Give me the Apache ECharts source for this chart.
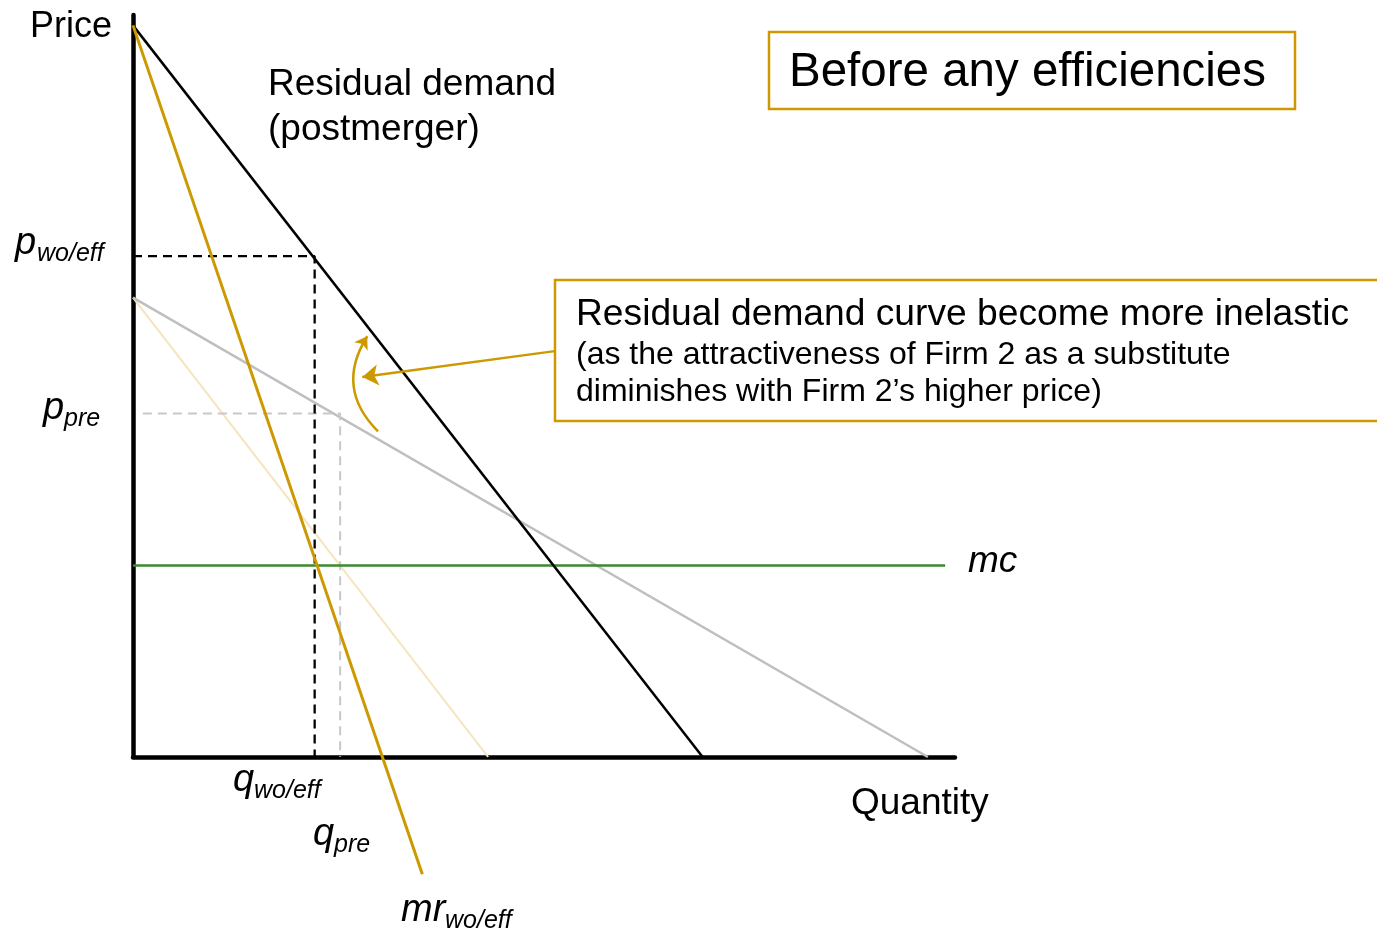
<!DOCTYPE html>
<html>
<head>
<meta charset="utf-8">
<script src="https://cdn.jsdelivr.net/npm/echarts@6/dist/echarts.min.js"></script>
<style>
  html, body { margin: 0; padding: 0; background: #fff; }
  #chart { width: 1377px; height: 931px; }
</style>
</head>
<body>
<div id="chart"></div>
<script>
// ---- data (in chart units: quantity 0..100, price 0..100) ----
const demandPost = [[0, 98.6], [69.3, 0]];       // residual demand (postmerger)
const mrPost = [[0, 98.6], [35.2, -15.8]];        // mr wo/eff
const demandPre = [[0, 61.9], [96.7, 0]];         // pre-merger demand
const mrPre = [[0, 61.9], [43.2, 0]];             // pre-merger mr
const mcLevel = 25.8;
const mcEnd = 98.8;
const pWoEff = 67.5, qWoEff = 22.1;
const pPre = 46.3, qPre = 25.2;
const arrowStraight = [[51.3, 54.7], [27.9, 51.2]];
const arrowCurved = [[29.8, 43.9], [28.5, 56.7]];

const GOLD = '#CC9900';
const FONT = 'Liberation Sans, Arial, Helvetica, sans-serif';

const chart = echarts.init(document.getElementById('chart'), null, { renderer: 'canvas' });

function lineSeries(data, color, width, type, z) {
  return {
    type: 'line', data: data, symbol: 'none', showSymbol: false, clip: false,
    silent: true, animation: false, z: z || 2,
    lineStyle: { color: color, width: width, type: type || 'solid', cap: 'butt' }
  };
}

const K = 0.30;
// label helper: main text + subscript; baseline given in px
function label(x, baseline, main, sub, size, subSize, subDx) {
  const els = [{
    type: 'text', x: x, y: baseline - size * K,
    style: { text: main, font: 'italic ' + size + 'px ' + FONT, fill: '#000', verticalAlign: 'middle' }
  }];
  if (sub) {
    els.push({
      type: 'text', x: x + subDx, y: baseline + 7 - subSize * K,
      style: { text: sub, font: 'italic ' + subSize + 'px ' + FONT, fill: '#000', verticalAlign: 'middle' }
    });
  }
  return els;
}
function plain(x, baseline, text, size) {
  return {
    type: 'text', x: x, y: baseline - size * K,
    style: { text: text, font: size + 'px ' + FONT, fill: '#000', verticalAlign: 'middle' }
  };
}

const graphics = [].concat(
  [plain(30, 38, 'Price', 36)],
  [plain(268, 96, 'Residual demand', 37), plain(268, 141, '(postmerger)', 37)],
  label(15, 255, 'p', 'wo/eff', 38, 25, 22),
  label(43, 420, 'p', 'pre', 38, 25, 21),
  label(233, 792, 'q', 'wo/eff', 38, 25, 21),
  label(313, 846, 'q', 'pre', 38, 25, 21),
  label(401, 922, 'mr', 'wo/eff', 38, 25, 44),
  label(968, 573, 'mc', null, 37, 0, 0),
  [plain(851, 815, 'Quantity', 37)],
  [{
    type: 'rect', shape: { x: 769, y: 32, width: 526, height: 77 },
    style: { fill: '#fff', stroke: GOLD, lineWidth: 2.5 }
  }, plain(789, 87, 'Before any efficiencies', 47.5)],
  [{
    type: 'rect', shape: { x: 555, y: 280, width: 840, height: 141 },
    style: { fill: '#fff', stroke: GOLD, lineWidth: 2.5 }
  },
  plain(576, 326, 'Residual demand curve become more inelastic', 37.2),
  plain(576, 365, '(as the attractiveness of Firm 2 as a substitute', 32),
  plain(576, 402, 'diminishes with Firm 2\u2019s higher price)', 32)]
);

const option = {
  backgroundColor: '#fff',
  animation: false,
  grid: { left: 133, top: 15, width: 822, height: 742, containLabel: false },
  xAxis: {
    type: 'value', min: 0, max: 100,
    axisLine: { show: true, onZero: false, lineStyle: { color: '#000', width: 4.5 } },
    axisTick: { show: false }, axisLabel: { show: false }, splitLine: { show: false }
  },
  yAxis: {
    type: 'value', min: 0, max: 100,
    axisLine: { show: true, onZero: false, lineStyle: { color: '#000', width: 4.5 } },
    axisTick: { show: false }, axisLabel: { show: false }, splitLine: { show: false }
  },
  series: [
    lineSeries(mrPre, '#F5E4BC', 2, 'solid', 1),
    lineSeries(demandPre, '#BFBFBF', 2.5, 'solid', 2),
    lineSeries([[1.2, pPre], [qPre, pPre], [qPre, 0]], '#C8C8C8', 2, [9, 6], 2),
    lineSeries([[0, pWoEff], [qWoEff, pWoEff], [qWoEff, 0]], '#000', 2.3, [9, 6], 3),
    lineSeries([[0, mcLevel], [mcEnd, mcLevel]], '#3A8A2E', 2.5, 'solid', 3),
    lineSeries(demandPost, '#000', 2.5, 'solid', 4),
    lineSeries(mrPost, GOLD, 3, 'solid', 4),
    {
      type: 'lines', coordinateSystem: 'cartesian2d', silent: true, animation: false, z: 5,
      symbol: ['none', 'arrow'], symbolSize: 16,
      lineStyle: { color: GOLD, width: 2.5, opacity: 1, curveness: 0 },
      data: [{ coords: arrowStraight }]
    },
    {
      type: 'lines', coordinateSystem: 'cartesian2d', silent: true, animation: false, z: 5,
      symbol: ['none', 'arrow'], symbolSize: 12,
      lineStyle: { color: GOLD, width: 2.5, opacity: 1, curveness: 0.4 },
      data: [{ coords: arrowCurved }]
    }
  ],
  graphic: graphics
};
chart.setOption(option);
</script>
</body>
</html>
